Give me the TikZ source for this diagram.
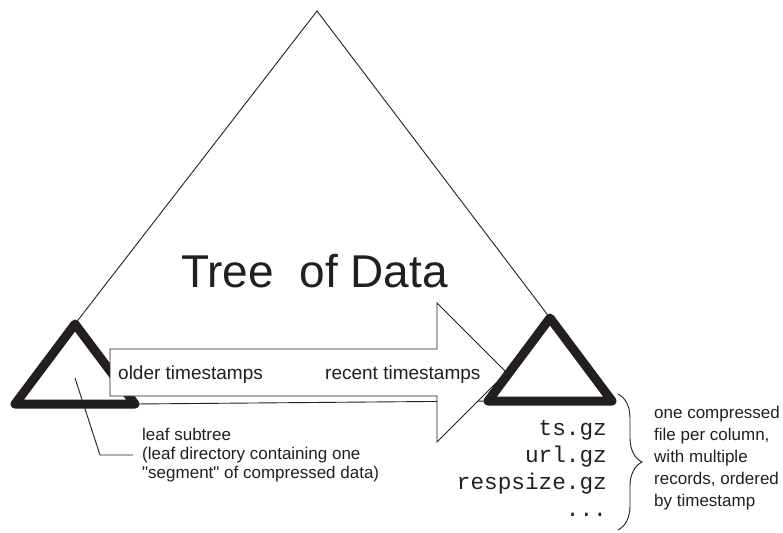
\documentclass[tikz,border=0pt]{standalone}
\usepackage{fontspec}
\setmainfont{Liberation Sans}[Ligatures=TeXOff]
\setmonofont{Liberation Mono}
\usetikzlibrary{decorations.pathreplacing}
\definecolor{ink}{RGB}{35,31,32}
\begin{document}
\begin{tikzpicture}[x=1pt,y=-1pt,
  every node/.style={inner sep=0pt, text=ink},
  thinline/.style={draw=ink, line width=0.9pt},
  leafedge/.style={draw=ink, line width=9pt, line join=round, line cap=round},
  note/.style={anchor=base west, font=\fontsize{17}{19}\selectfont},
  arrowlabel/.style={anchor=base west, font=\fontsize{19}{21}\selectfont},
  filename/.style={anchor=base east, font=\ttfamily\fontsize{22.7}{27}\selectfont},
  title/.style={anchor=base west, font=\fontsize{46}{50}\selectfont}]
\useasboundingbox (0,0) rectangle (783,532);

% key points of the overall tree and the two leaf subtrees
\coordinate (top) at (317,11);
\coordinate (lapex) at (75,324);
\coordinate (lleft) at (15,404);
\coordinate (lright) at (135,404);
\coordinate (rapex) at (550,318);
\coordinate (rleft) at (488,401);
\coordinate (rright) at (612,401);

% sides of the big tree
\draw[thinline] (lapex) -- (top) -- (rapex);

% left leaf subtree and the base line joining the subtrees
\draw[leafedge] (lleft) -- (lapex) -- (lright) -- cycle;
\draw[thinline] (lright) -- (rleft);

% time arrow
\draw[thinline, fill=white]
  (110,349) -- (437,349) -- (437,303) -- (506.5,372.5) -- (437,442)
  -- (437,396) -- (110,396) -- cycle;
\node[arrowlabel] (older) at (118,379) {older timestamps};
\node[arrowlabel] (recent) at (325,379) {recent timestamps};

% right leaf subtree
\draw[leafedge] (rleft) -- (rapex) -- (rright) -- cycle;

\node[title] (tree) at (181,287) {Tree\ \ of Data};

% description of a leaf subtree
\node[note] (leafA) at (142,440) {leaf subtree};
\node[note] (leafB) at (142,459) {(leaf directory containing one};
\node[note] (leafC) at (142,478) {"segment" of compressed data)};
\coordinate (leafin) at (75,378);
\coordinate (leafbend) at (100,455);
\coordinate (leafend) at (133,455);
\draw[thinline] (leafin) -- (leafbend) -- (leafend);

% column files in a segment
\node[filename] (fts) at (607,435) {ts.gz};
\node[filename] (furl) at (607,462) {url.gz};
\node[filename] (fsize) at (607,489) {respsize.gz};
\node[filename] (fmore) at (607,516) {...};

\coordinate (bracetop) at (618,394);
\coordinate (bracebot) at (618,530);
\draw[thinline, decorate, decoration={brace, amplitude=24pt}] (bracetop) -- (bracebot);

\node[note] (colA) at (654,418) {one compressed};
\node[note] (colB) at (654,440) {file per column,};
\node[note] (colC) at (654,462) {with multiple};
\node[note] (colD) at (654,484) {records, ordered};
\node[note] (colE) at (654,506) {by timestamp};
\end{tikzpicture}
\end{document}
